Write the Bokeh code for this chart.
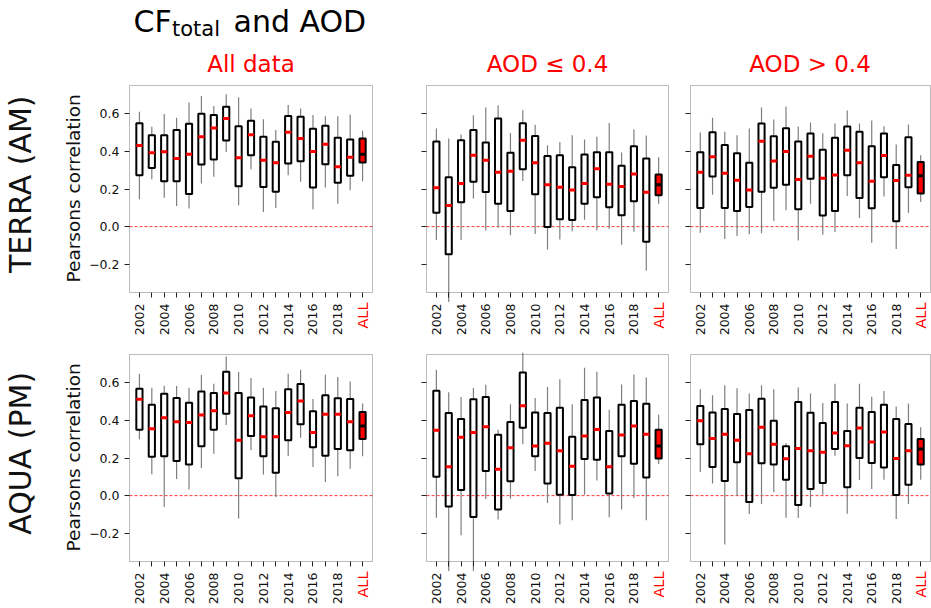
import math
from bokeh.plotting import figure
from bokeh.layouts import column, row
from bokeh.models import Range1d, FixedTicker, Label, BoxAnnotation, ColumnDataSource
from bokeh.embed import file_html
from bokeh.resources import INLINE
from bokeh.core.properties import value

FONT = "DejaVu Sans"

# ---------------- data ----------------
categories = ["2002", "2003", "2004", "2005", "2006", "2007", "2008", "2009", "2010", "2011",
              "2012", "2013", "2014", "2015", "2016", "2017", "2018", "2019", "ALL"]
positions = list(range(1, len(categories) + 1))
y_ticks = [-0.2, 0.0, 0.2, 0.4, 0.6]
y_tick_labels = ["\u22120.2", "0.0", "0.2", "0.4", "0.6"]

col_titles = ["All data", "AOD \u2264 0.4", "AOD > 0.4"]
row_labels = ["TERRA (AM)", "AQUA (PM)"]
y_label = "Pearsons correlation"

# Terra, all data
ta_whi = [0.611, 0.531, 0.598, 0.579, 0.660, 0.694, 0.641, 0.703, 0.687, 0.628, 0.570, 0.513, 0.646, 0.628, 0.593, 0.586, 0.586, 0.596, 0.509]
ta_q3 = [0.549, 0.485, 0.486, 0.513, 0.547, 0.600, 0.593, 0.637, 0.533, 0.563, 0.478, 0.451, 0.588, 0.584, 0.520, 0.536, 0.472, 0.463, 0.469]
ta_med = [0.431, 0.392, 0.398, 0.362, 0.385, 0.478, 0.524, 0.575, 0.366, 0.488, 0.353, 0.339, 0.501, 0.469, 0.399, 0.438, 0.318, 0.369, 0.385]
ta_q1 = [0.273, 0.312, 0.241, 0.241, 0.174, 0.330, 0.357, 0.458, 0.215, 0.380, 0.211, 0.185, 0.336, 0.348, 0.208, 0.332, 0.233, 0.270, 0.341]
ta_wlo = [0.146, 0.252, 0.153, 0.110, 0.096, 0.229, 0.265, 0.396, 0.114, 0.305, 0.078, 0.099, 0.273, 0.238, 0.092, 0.208, 0.122, 0.193, 0.241]

# Terra, AOD <= 0.4
tl_whi = [0.521, 0.468, 0.489, 0.592, 0.633, 0.645, 0.498, 0.619, 0.541, 0.433, 0.450, 0.486, 0.463, 0.477, 0.551, 0.394, 0.518, 0.484, 0.369]
tl_q3 = [0.452, 0.262, 0.459, 0.514, 0.447, 0.574, 0.392, 0.550, 0.482, 0.376, 0.379, 0.316, 0.383, 0.395, 0.395, 0.323, 0.427, 0.362, 0.277]
tl_med = [0.207, 0.112, 0.229, 0.379, 0.353, 0.289, 0.294, 0.459, 0.340, 0.223, 0.209, 0.195, 0.229, 0.307, 0.225, 0.213, 0.280, 0.183, 0.222]
tl_q1 = [0.074, -0.147, 0.129, 0.238, 0.184, 0.121, 0.083, 0.305, 0.172, -0.002, 0.039, 0.035, 0.121, 0.156, 0.103, 0.060, 0.135, -0.080, 0.167]
tl_wlo = [-0.071, -0.400, -0.071, 0.149, -0.020, -0.005, -0.046, 0.243, -0.039, -0.122, -0.069, -0.025, 0.037, -0.020, -0.011, -0.096, -0.027, -0.234, 0.121]

# Terra, AOD > 0.4
th_whi = [0.500, 0.578, 0.504, 0.486, 0.521, 0.633, 0.569, 0.638, 0.532, 0.553, 0.496, 0.548, 0.617, 0.548, 0.564, 0.534, 0.436, 0.543, 0.379]
th_q3 = [0.395, 0.502, 0.434, 0.390, 0.340, 0.548, 0.480, 0.523, 0.452, 0.495, 0.408, 0.473, 0.532, 0.504, 0.427, 0.495, 0.328, 0.475, 0.344]
th_med = [0.289, 0.371, 0.284, 0.246, 0.195, 0.454, 0.349, 0.399, 0.250, 0.374, 0.257, 0.275, 0.406, 0.339, 0.241, 0.378, 0.245, 0.273, 0.270]
th_q1 = [0.099, 0.266, 0.099, 0.083, 0.105, 0.186, 0.207, 0.222, 0.092, 0.255, 0.059, 0.083, 0.273, 0.152, 0.098, 0.262, 0.028, 0.209, 0.176]
th_wlo = [-0.032, 0.170, -0.066, -0.050, -0.041, -0.035, 0.030, 0.087, -0.074, 0.121, -0.043, -0.028, 0.163, 0.046, -0.085, 0.160, -0.119, 0.074, 0.131]

# Aqua, all data
aa_whi = [0.648, 0.573, 0.584, 0.582, 0.573, 0.641, 0.595, 0.740, 0.657, 0.625, 0.573, 0.556, 0.648, 0.669, 0.513, 0.642, 0.630, 0.607, 0.490]
aa_q3 = [0.568, 0.483, 0.542, 0.519, 0.494, 0.554, 0.545, 0.658, 0.545, 0.522, 0.474, 0.464, 0.566, 0.593, 0.448, 0.533, 0.517, 0.513, 0.444]
aa_med = [0.512, 0.356, 0.414, 0.393, 0.388, 0.428, 0.451, 0.545, 0.294, 0.425, 0.313, 0.313, 0.442, 0.503, 0.336, 0.432, 0.432, 0.393, 0.370]
aa_q1 = [0.350, 0.207, 0.209, 0.184, 0.166, 0.262, 0.350, 0.435, 0.092, 0.317, 0.209, 0.122, 0.294, 0.379, 0.257, 0.212, 0.248, 0.241, 0.301]
aa_wlo = [0.299, 0.113, -0.060, 0.088, 0.032, 0.147, 0.223, 0.375, -0.122, 0.241, 0.112, -0.007, 0.211, 0.308, 0.152, 0.073, 0.103, 0.143, 0.209]

# Aqua, AOD <= 0.4
al_whi = [0.669, 0.549, 0.524, 0.572, 0.589, 0.350, 0.485, 0.760, 0.519, 0.577, 0.618, 0.485, 0.680, 0.658, 0.457, 0.591, 0.644, 0.628, 0.430]
al_q3 = [0.558, 0.439, 0.407, 0.512, 0.524, 0.324, 0.391, 0.655, 0.442, 0.439, 0.467, 0.313, 0.508, 0.522, 0.343, 0.483, 0.503, 0.488, 0.350]
al_med = [0.347, 0.154, 0.310, 0.336, 0.366, 0.140, 0.255, 0.478, 0.264, 0.278, 0.239, 0.156, 0.317, 0.352, 0.154, 0.322, 0.370, 0.326, 0.264]
al_q1 = [0.101, -0.058, 0.030, -0.113, 0.131, -0.074, 0.076, 0.361, 0.209, 0.064, 0.005, 0.004, 0.195, 0.191, 0.011, 0.209, 0.170, 0.097, 0.198]
al_wlo = [-0.117, -0.400, -0.211, -0.400, -0.018, -0.127, -0.016, 0.273, 0.131, -0.039, -0.154, -0.131, 0.005, 0.080, -0.115, -0.074, -0.012, -0.131, 0.168]

# Aqua, AOD > 0.4
ah_whi = [0.565, 0.533, 0.586, 0.570, 0.543, 0.586, 0.565, 0.280, 0.575, 0.543, 0.492, 0.595, 0.490, 0.595, 0.526, 0.556, 0.474, 0.490, 0.363]
ah_q3 = [0.476, 0.442, 0.460, 0.434, 0.455, 0.515, 0.398, 0.262, 0.497, 0.441, 0.386, 0.497, 0.343, 0.467, 0.444, 0.483, 0.407, 0.381, 0.301]
ah_med = [0.398, 0.304, 0.326, 0.294, 0.223, 0.363, 0.273, 0.196, 0.250, 0.239, 0.230, 0.333, 0.265, 0.359, 0.285, 0.338, 0.198, 0.239, 0.248]
ah_q1 = [0.273, 0.152, 0.078, 0.177, -0.034, 0.172, 0.165, 0.085, -0.050, 0.035, 0.067, 0.248, 0.044, 0.200, 0.173, 0.149, 0.004, 0.058, 0.165]
ah_wlo = [0.126, 0.064, -0.260, 0.000, -0.097, -0.044, 0.018, -0.117, -0.119, -0.060, 0.005, 0.212, -0.096, 0.083, 0.035, 0.085, -0.124, -0.044, 0.085]

# ---------------- layout geometry (pixels) ----------------
XLIM = (0.2, 19.8)
YLIM = (-0.35, 0.75)
COLS = [dict(fig_left=0, fig_right=400, box_left=129, box_w=243, ext_l=2, ext_r=2),
        dict(fig_left=400, fig_right=680, box_left=426, box_w=242, ext_l=2, ext_r=2),
        dict(fig_left=680, fig_right=931, box_left=690, box_w=240, ext_l=2, ext_r=1)]
ROWS = [dict(fig_top=40, fig_bottom=344, box_top=85),
        dict(fig_top=344, fig_bottom=608, box_top=354)]
BOX_H = 207
EXT_T = 2
EXT_B = 45
BOX_HALF = 0.25

labeled_pos = [p for p, c in zip(positions[:-1], categories[:-1]) if int(c) % 2 == 0]
unlabeled_pos = [p for p in positions if p not in labeled_pos]


def make_panel(stats, r, c):
    whi, q3, med, q1, wlo = stats
    cg, rg = COLS[c], ROWS[r]
    u = (XLIM[1] - XLIM[0]) / cg["box_w"]
    v = (YLIM[1] - YLIM[0]) / BOX_H
    fw = cg["box_w"] + cg["ext_l"] + cg["ext_r"]
    fh = BOX_H + EXT_T + EXT_B
    mbl = cg["box_left"] - cg["ext_l"] - cg["fig_left"]
    mbr = cg["fig_right"] - (cg["box_left"] + cg["box_w"] + cg["ext_r"])
    mbt = rg["box_top"] - EXT_T - rg["fig_top"]
    mbb = rg["fig_bottom"] - (rg["box_top"] + BOX_H + EXT_B)

    p = figure(frame_width=fw, frame_height=fh,
               x_range=Range1d(XLIM[0] - cg["ext_l"] * u, XLIM[1] + cg["ext_r"] * u),
               y_range=Range1d(YLIM[0] - EXT_B * v, YLIM[1] + EXT_T * v),
               output_backend="svg", toolbar_location=None,
               min_border_left=mbl, min_border_right=mbr,
               min_border_top=mbt, min_border_bottom=mbb,
               title=col_titles[c] if r == 0 else None)
    p.background_fill_color = "white"
    p.border_fill_color = "white"
    p.outline_line_color = None
    p.xgrid.visible = False
    p.ygrid.visible = False
    if r == 0:
        p.title.text_color = "red"
        p.title.text_font = FONT
        p.title.text_font_size = "23px"
        p.title.text_font_style = "normal"
        p.title.align = "center"
        p.title.standoff = 14

    # axes frame box
    p.add_layout(BoxAnnotation(left=XLIM[0], right=XLIM[1], bottom=YLIM[0], top=YLIM[1],
                               fill_color=None, line_color="#222222", line_width=1))

    n = len(positions) - 1
    def src(sl):
        xs = positions[sl]
        return ColumnDataSource(dict(x=xs, whi=whi[sl], q3=q3[sl], med=med[sl], q1=q1[sl], wlo=wlo[sl],
                                     l=[x - BOX_HALF for x in xs], r=[x + BOX_HALF for x in xs]))
    src_y = src(slice(0, n))
    src_a = src(slice(n, None))

    p.segment(x0=[XLIM[0]], y0=[0], x1=[XLIM[1]], y1=[0], line_color="red",
              line_width=0.8, line_dash="3 2")
    for s in (src_y, src_a):
        p.segment(x0="x", y0="q3", x1="x", y1="whi", source=s, line_color="#7f7f7f", line_width=1.2)
        p.segment(x0="x", y0="q1", x1="x", y1="wlo", source=s, line_color="#7f7f7f", line_width=1.2)
    p.vbar(x="x", width=2 * BOX_HALF, bottom="q1", top="q3", source=src_y,
           fill_color=None, line_color="black", line_width=2)
    p.vbar(x="x", width=2 * BOX_HALF, bottom="q1", top="q3", source=src_a,
           fill_color="red", line_color="black", line_width=2)
    p.segment(x0="l", y0="med", x1="r", y1="med", source=src_y, line_color="red", line_width=3)
    p.segment(x0="l", y0="med", x1="r", y1="med", source=src_a, line_color="black", line_width=3)

    # x axis, drawn at the bottom of the data box
    xa = p.xaxis[0]
    xa.fixed_location = YLIM[0]
    xa.axis_line_color = None
    xa.ticker = FixedTicker(ticks=labeled_pos, minor_ticks=unlabeled_pos)
    xa.major_label_overrides = {pp: categories[pp - 1] for pp in labeled_pos}
    xa.major_label_orientation = math.pi / 2
    xa.major_label_standoff = 6
    xa.major_tick_out = 5
    xa.major_tick_in = 0
    xa.minor_tick_out = 5
    xa.minor_tick_in = 0
    xa.major_tick_line_color = "#222222"
    xa.minor_tick_line_color = "#222222"
    xa.major_label_text_font = FONT
    xa.major_label_text_font_size = "12.5px"
    xa.major_label_text_color = "#111111"

    p.add_layout(Label(x=positions[-1], y=YLIM[0] - 10 * v, text=categories[-1], angle=math.pi / 2,
                       text_align="right", text_baseline="middle", text_color="red",
                       text_font=FONT, text_font_size="14.5px"))

    # y axis
    ya = p.yaxis[0]
    ya.axis_line_color = None
    ya.major_tick_line_color = "#222222"
    ya.minor_tick_line_color = "#222222"
    if c == 0:
        ya.ticker = FixedTicker(ticks=y_ticks)
        ya.major_label_overrides = {t: lab for t, lab in zip(y_ticks, y_tick_labels)}
        ya.major_tick_out = 3
        ya.major_tick_in = 2
        ya.minor_tick_out = 0
        ya.minor_tick_in = 0
        ya.major_label_standoff = 5
        ya.major_label_text_font = FONT
        ya.major_label_text_font_size = "12.5px"
        ya.major_label_text_color = "#111111"
        p.add_layout(Label(x=XLIM[0] - (cg["box_left"] - 73) * u, y=0.2035, text=y_label,
                           angle=math.pi / 2, text_align="center", text_baseline="middle",
                           text_color="#111111", text_font=FONT, text_font_size="18.5px"), "left")
        p.add_layout(Label(x=XLIM[0] - (cg["box_left"] - 20) * u, y=0.225, text=row_labels[r],
                           angle=math.pi / 2, text_align="center", text_baseline="middle",
                           text_color="#111111", text_font=FONT, text_font_size="30px"), "left")
    else:
        ya.ticker = FixedTicker(ticks=[], minor_ticks=y_ticks)
        ya.major_tick_out = 0
        ya.major_tick_in = 0
        ya.minor_tick_out = 3
        ya.minor_tick_in = 2
        ya.major_label_standoff = 0
    return p


# header with main title
h = figure(frame_width=931, frame_height=40, x_range=Range1d(0, 931), y_range=Range1d(0, 40),
           output_backend="svg", toolbar_location=None, x_axis_type=None, y_axis_type=None,
           min_border_left=0, min_border_right=0, min_border_top=0, min_border_bottom=0)
h.outline_line_color = None
h.text(x=[133], y=[18.6], text=["CF"], text_font=value(FONT), text_font_size=value("30px"),
       text_baseline="alphabetic", text_color="black")
h.text(x=[171.5], y=[12.0], text=["total"], text_font=value(FONT), text_font_size=value("21px"),
       text_baseline="alphabetic", text_color="black")
h.text(x=[233], y=[18.6], text=["and AOD"], text_font=value(FONT), text_font_size=value("30px"),
       text_baseline="alphabetic", text_color="black")

panels = [
    [(ta_whi, ta_q3, ta_med, ta_q1, ta_wlo), (tl_whi, tl_q3, tl_med, tl_q1, tl_wlo), (th_whi, th_q3, th_med, th_q1, th_wlo)],
    [(aa_whi, aa_q3, aa_med, aa_q1, aa_wlo), (al_whi, al_q3, al_med, al_q1, al_wlo), (ah_whi, ah_q3, ah_med, ah_q1, ah_wlo)],
]

rows = [row(*[make_panel(panels[r][c], r, c) for c in range(3)]) for r in range(2)]
layout = column(h, *rows)
open("out.html", "w").write(file_html(layout, INLINE))
